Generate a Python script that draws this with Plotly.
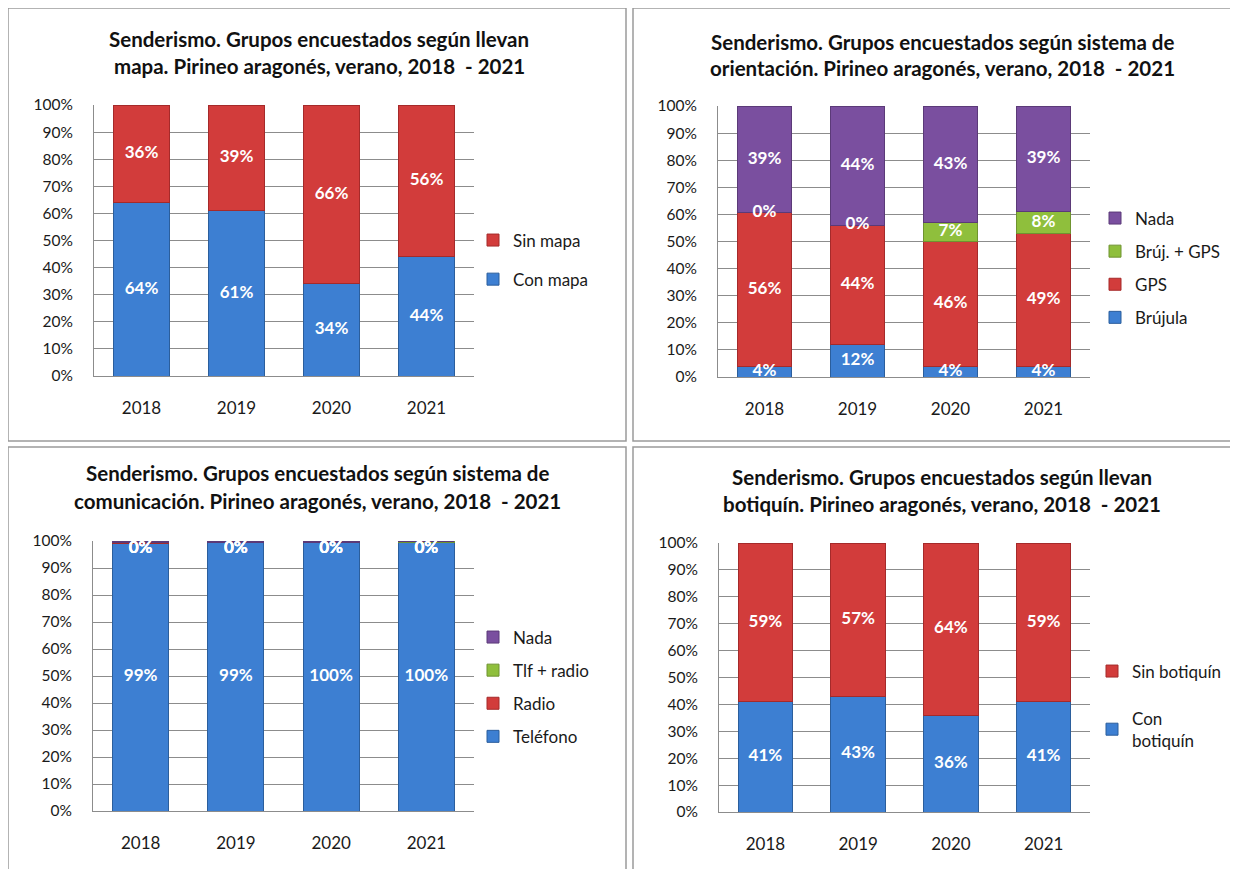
import plotly.graph_objects as go

years = ["2018", "2019", "2020", "2021"]

mapa_con = [64, 61, 34, 44]
mapa_sin = [36, 39, 66, 56]

orient_brujula = [4, 12, 4, 4]
orient_gps = [56, 44, 46, 49]
orient_bruj_gps = [0, 0, 7, 8]
orient_nada = [39, 44, 43, 39]

comun_telefono = [99.2, 99.4, 99.5, 99.6]
comun_radio = [0.4, 0.2, 0.0, 0.0]
comun_tlf_radio = [0.0, 0.0, 0.0, 0.4]
comun_nada = [0.4, 0.4, 0.5, 0.0]

botiq_con = [41, 43, 36, 41]
botiq_sin = [59, 57, 64, 59]

titles = [
    ("Senderismo. Grupos encuestados según llevan",
     "mapa. Pirineo aragonés, verano, 2018  - 2021"),
    ("Senderismo. Grupos encuestados según sistema de",
     "orientación. Pirineo aragonés, verano, 2018  - 2021"),
    ("Senderismo. Grupos encuestados según sistema de",
     "comunicación. Pirineo aragonés, verano, 2018  - 2021"),
    ("Senderismo. Grupos encuestados según llevan",
     "botiquín. Pirineo aragonés, verano, 2018  - 2021"),
]

BLUE, RED, GREEN, PURPLE = "#3d7fd2", "#d23c3b", "#8fbf3c", "#7a4f9f"
EDGE = {BLUE: "#2b5e9c", RED: "#a52a2a", GREEN: "#6f9330", PURPLE: "#5b3a78"}

panels = [
    [("Con mapa", mapa_con, BLUE), ("Sin mapa", mapa_sin, RED)],
    [("Brújula", orient_brujula, BLUE), ("GPS", orient_gps, RED),
     ("Brúj. + GPS", orient_bruj_gps, GREEN), ("Nada", orient_nada, PURPLE)],
    [("Teléfono", comun_telefono, BLUE), ("Radio", comun_radio, RED),
     ("Tlf + radio", comun_tlf_radio, GREEN), ("Nada", comun_nada, PURPLE)],
    [("Con<br>botiquín", botiq_con, BLUE), ("Sin botiquín", botiq_sin, RED)],
]

# the page body keeps an 8px margin, so the figure starts at (8, 8)
W, H = 1230, 861
OX, OY = 8, 8


def fx(X):
    return (X - OX) / W


def fy(Y):
    return 1 - (Y - OY) / H


# screen pixels: plot area, title centre / lines, legend left / centre, panel border
geo = [
    dict(x=(94, 474), y=(105, 376), tx=319, ty=(39, 66), lx=473, ly=260, gap=14, box=(8, 626, 8, 441)),
    dict(x=(718, 1090), y=(106, 377), tx=942, ty=(42, 68), lx=1095, ly=268, gap=8, box=(633, 1250, 8, 441)),
    dict(x=(93, 474), y=(541, 811), tx=317, ty=(473, 501), lx=473, ly=687, gap=8, box=(8, 626, 447, 880)),
    dict(x=(719, 1090), y=(543, 812), tx=942, ty=(477, 504), lx=1092, ly=706, gap=22, box=(633, 1250, 447, 880)),
]

FONT = "Lato, 'Open Sans', sans-serif"
GRID = "#8c8c8c"
TOP_LABEL_MAX = 97.3  # keep labels of tiny top segments inside the plot area

fig = go.Figure()
layout = dict(
    width=W, height=H, margin=dict(l=0, r=0, t=0, b=0, pad=0, autoexpand=False),
    paper_bgcolor="white", plot_bgcolor="white",
    barmode="stack", barnorm="percent", bargap=0.41,
    font=dict(family=FONT, size=16, color="#1a1a1a"),
    shapes=[], annotations=[],
)

for i, (series, g) in enumerate(zip(panels, geo)):
    n = "" if i == 0 else str(i + 1)
    xa, ya = "x" + n, "y" + n
    leg = "legend" + n

    totals = [sum(s[1][k] for s in series) for k in range(len(years))]
    base = [0.0] * len(years)
    for j, (name, vals, col) in enumerate(series):
        fig.add_trace(go.Bar(
            x=years, y=vals, name=name, xaxis=xa, yaxis=ya, legend=leg,
            legendgroup=f"{i}-{name}", legendrank=100 - j,
            marker=dict(color=col, line=dict(color=EDGE[col], width=1)),
            hoverinfo="skip",
        ))
        # value labels at the middle of each normalised segment
        share = [v / t * 100 for v, t in zip(vals, totals)]
        mid = [min(b + s / 2, TOP_LABEL_MAX) for b, s in zip(base, share)]
        base = [b + s for b, s in zip(base, share)]
        fig.add_trace(go.Scatter(
            x=years, y=mid, mode="text", xaxis=xa, yaxis=ya,
            text=[f"{v:.0f}%" for v in vals], showlegend=False,
            textfont=dict(family=FONT, size=17, color="white", weight="bold"),
            hoverinfo="skip", cliponaxis=True,
        ))

    layout["xaxis" + n] = dict(
        domain=[fx(g["x"][0]), fx(g["x"][1])], anchor=ya, type="category",
        showline=True, linecolor=GRID, linewidth=1, showgrid=False,
        ticks="", ticklabelstandoff=17, tickfont=dict(size=17, color="#1a1a1a"),
        fixedrange=True, automargin=False,
    )
    layout["yaxis" + n] = dict(
        domain=[fy(g["y"][1]), fy(g["y"][0])], anchor=xa, range=[0, 100],
        dtick=10, ticksuffix="%", showline=True, linecolor=GRID, linewidth=1,
        showgrid=True, gridcolor=GRID, gridwidth=1, zeroline=False,
        ticks="", ticklabelstandoff=17, tickfont=dict(size=15.5, color="#1a1a1a"),
        fixedrange=True, automargin=False,
    )
    layout[leg] = dict(
        x=fx(g["lx"]), y=fy(g["ly"]), xanchor="left", yanchor="middle",
        traceorder="grouped", tracegroupgap=g["gap"],
        bgcolor="rgba(0,0,0,0)", font=dict(family=FONT, size=17, color="#1a1a1a"),
    )

    x0, x1, y0, y1 = g["box"]
    layout["shapes"].append(dict(
        type="rect", xref="paper", yref="paper",
        x0=fx(x0), x1=fx(x1), y0=fy(y1), y1=fy(y0),
        line=dict(color="#9a9a9a", width=1.5), layer="below",
    ))
    for line, ty in zip(titles[i], g["ty"]):
        layout["annotations"].append(dict(
            text=f"<b>{line}</b>", xref="paper", yref="paper",
            x=fx(g["tx"]), y=fy(ty), xanchor="center", yanchor="middle",
            showarrow=False, font=dict(family=FONT, size=20.5, color="#111111"),
        ))

fig.update_layout(**layout)
fig.write_html("out.html")
